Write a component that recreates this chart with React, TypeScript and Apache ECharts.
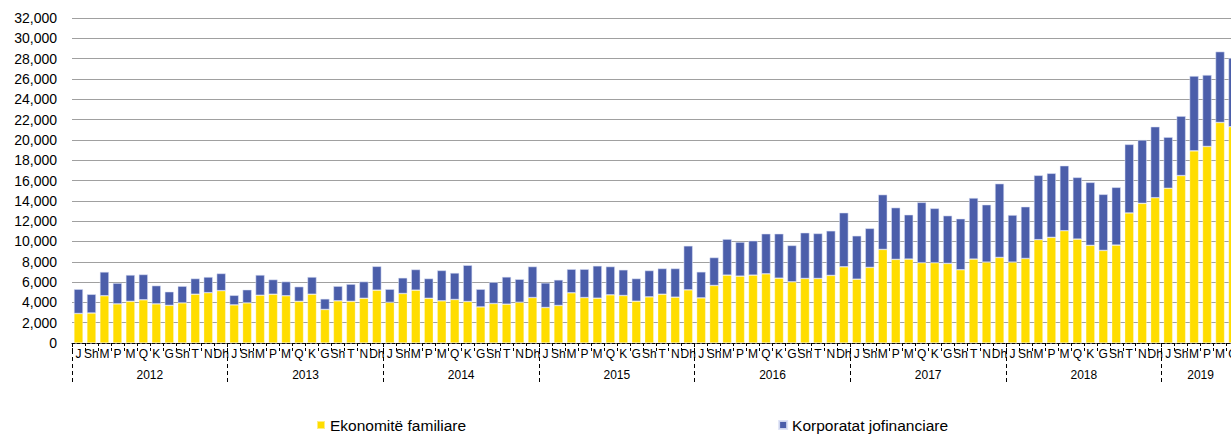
import { useEffect, useRef } from "react";
import * as echarts from "echarts";

const years = ["2012", "2013", "2014", "2015", "2016", "2017", "2018", "2019"];
const monthLabels = ["J", "Sh", "M", "P", "M", "Q", "K", "G", "Sh", "T", "N", "Dh"];
const seriesNames = ["Ekonomitë familiare", "Korporatat jofinanciare"];

// Ekonomitë familiare (yellow), Jan 2012 – Jun 2019
const household = [
  2900, 2950, 4650, 3850, 4100, 4250, 3850, 3700, 3950, 4800, 4950, 5150,
  3750, 3950, 4700, 4800, 4650, 4100, 4800, 3300, 4150, 4100, 4400, 5200,
  4000, 4870, 5200, 4400, 4150, 4280, 4080, 3550, 3880, 3820, 4010, 4470,
  3490, 3690, 4940, 4470, 4410, 4740, 4670, 4110, 4540, 4800, 4510, 5230,
  4440, 5660, 6680, 6580, 6680, 6810, 6380, 6020, 6350, 6350, 6650, 7500,
  6280, 7440, 9210, 8230, 8260, 7900, 7900, 7830, 7210, 8260, 7960, 8420,
  7960, 8320, 10170, 10400, 11050, 10230, 9610, 9110, 9640, 12800, 13750, 14300,
  15230, 16480, 18920, 19350, 21710, 21290,
];

// Korporatat jofinanciare (blue), Jan 2012 – Jun 2019
const corporate = [
  2400, 1850, 2350, 2050, 2600, 2500, 1800, 1350, 1650, 1550, 1550, 1700,
  950, 1300, 2000, 1450, 1400, 1450, 1700, 1050, 1450, 1700, 1650, 2350,
  1300, 1550, 2040, 1950, 3000, 2620, 3580, 1750, 2110, 2690, 2270, 3060,
  2430, 2530, 2330, 2800, 3190, 2790, 2540, 2240, 2600, 2540, 2830, 4340,
  2570, 2760, 3550, 3360, 3390, 3950, 4380, 3590, 4510, 4440, 4400, 5330,
  4280, 3850, 5400, 5100, 4370, 5950, 5360, 4710, 5030, 6020, 5660, 7270,
  4640, 5100, 6340, 6310, 6410, 6080, 6210, 5530, 5690, 6760, 6240, 7000,
  5040, 5860, 7370, 7040, 6980, 6770,
];

// months of data in each year
const monthsPerYear = [12, 12, 12, 12, 12, 12, 12, 6];

const FONT = "'Liberation Sans', Arial, sans-serif";

export default function App() {
  const ref = useRef<HTMLDivElement>(null);

  useEffect(() => {
    if (!ref.current) return;
    const chart = echarts.init(ref.current, undefined, { renderer: "svg" });

    const categories: string[] = [];
    years.forEach((y, yi) => {
      for (let m = 0; m < monthsPerYear[yi]; m++) categories.push(`${y}-${m + 1}`);
    });
    const total = categories.length;

    const yearStarts: number[] = [];
    const yearCenters: number[] = [];
    const centerToYear: Record<string, string> = {};
    let acc = 0;
    years.forEach((y, yi) => {
      yearStarts.push(acc);
      const c = acc + monthsPerYear[yi] / 2;
      yearCenters.push(c);
      centerToYear[String(c)] = y;
      acc += monthsPerYear[yi];
    });

    chart.setOption({
      animation: false,
      backgroundColor: "#ffffff",
      grid: {
        left: 72,
        right: -8.5,
        top: 18,
        bottom: 91,
        containLabel: false,
        outerBoundsMode: "none",
      },
      legend: {
        data: seriesNames,
        left: 316,
        top: 417,
        itemWidth: 8,
        itemHeight: 8,
        itemGap: 312,
        icon: "rect",
        padding: 0,
        textStyle: {
          fontFamily: FONT,
          fontSize: 15.5,
          color: "#000",
        },
      },
      xAxis: [
        {
          type: "category",
          data: categories,
          boundaryGap: true,
          position: "bottom",
          axisLine: {
            show: true,
            lineStyle: { color: "#000", width: 1, type: [3, 2] },
          },
          axisTick: {
            show: true,
            interval: 0,
            length: 10,
            lineStyle: { color: "#000", width: 1, type: [3, 2] },
          },
          axisLabel: {
            interval: 0,
            margin: 5,
            fontFamily: FONT,
            fontSize: 12,
            color: "#000",
            formatter: (_v: string, i: number) => monthLabels[i % 12],
          },
          splitLine: { show: false },
        },
        {
          type: "value",
          min: 0,
          max: total,
          position: "bottom",
          axisLine: { show: false },
          splitLine: { show: false },
          axisTick: {
            show: true,
            customValues: yearStarts,
            length: 40,
            lineStyle: { color: "#000", width: 1, type: [4, 3] },
          },
          axisLabel: {
            show: true,
            customValues: yearCenters,
            margin: 26,
            fontFamily: FONT,
            fontSize: 12,
            color: "#000",
            formatter: (v: number) => centerToYear[String(v)] ?? "",
          },
        },
      ],
      yAxis: {
        type: "value",
        min: 0,
        max: 32000,
        interval: 2000,
        axisLine: { show: false },
        axisTick: { show: false },
        axisLabel: {
          margin: 15,
          fontFamily: FONT,
          fontSize: 14,
          color: "#000",
          formatter: (v: number) => v.toLocaleString("en-US"),
        },
        splitLine: { show: true, lineStyle: { color: "#a0a0a0", width: 1.2 } },
      },
      series: [
        {
          name: seriesNames[0],
          type: "bar",
          stack: "total",
          xAxisIndex: 0,
          data: household,
          barCategoryGap: "30%",
          itemStyle: { color: "#FFDD00", borderColor: "rgba(255,255,255,0.5)", borderWidth: 0.6 },
        },
        {
          name: seriesNames[1],
          type: "bar",
          stack: "total",
          xAxisIndex: 0,
          data: corporate,
          barCategoryGap: "30%",
          itemStyle: { color: "#4B5EAA", borderColor: "rgba(220,225,245,0.9)", borderWidth: 0.6 },
        },
      ],
    });

    return () => chart.dispose();
  }, []);

  return (
    <div
      style={{
        position: "fixed",
        left: 0,
        top: 0,
        width: 1231,
        height: 434,
        overflow: "hidden",
        background: "#fff",
      }}
    >
      <div ref={ref} style={{ width: 1231, height: 434 }} />
    </div>
  );
}
